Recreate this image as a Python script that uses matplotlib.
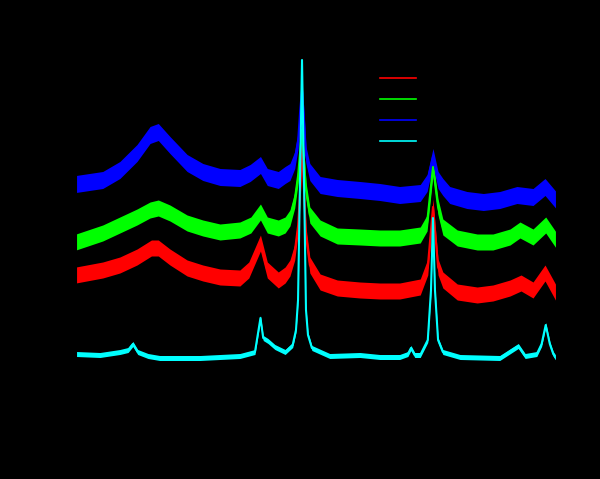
import matplotlib
matplotlib.use("Agg")
import matplotlib.pyplot as plt
import numpy as np

labels = ["S1", "S2", "S3", "S4"]
colors = ["#ff0000", "#00ff00", "#0000ff", "#00ffff"]

blue_x = [10.0, 13.9, 16.4, 18.9, 20.8, 22.0, 23.7, 26.2, 28.5, 31.0, 33.9, 35.4, 36.9, 37.9, 39.5,
          40.5, 41.2, 41.9, 42.4, 42.7, 42.96, 43.25, 43.54, 44.1, 45.6, 48.1, 51.4, 54.3, 57.2, 60.2,
          61.2, 62.06, 62.8, 63.5, 64.5, 67.0, 69.4, 71.8, 74.3, 76.65, 78.4, 80.0]
blue_y = [2160, 2200, 2300, 2470, 2650, 2680, 2550, 2370, 2280, 2230, 2220, 2270, 2350, 2230, 2200,
          2250, 2280, 2400, 2600, 2900, 3100, 2800, 2450, 2280, 2150, 2120, 2100, 2080, 2050, 2070,
          2170, 2430, 2200, 2130, 2050, 2000, 1980, 2000, 2050, 2030, 2130, 2000]

green_x = [10.0, 13.9, 16.4, 18.9, 20.8, 22.0, 23.7, 26.2, 28.5, 31.0, 33.9, 35.5, 36.9, 37.9, 39.5,
           40.5, 41.2, 41.9, 42.4, 42.7, 42.96, 43.25, 43.54, 44.1, 45.6, 48.1, 51.4, 54.3, 57.2, 60.2,
           61.2, 62.06, 62.8, 63.5, 65.6, 68.5, 70.8, 73.3, 74.75, 76.65, 78.5, 80.0]
green_y = [1580, 1670, 1750, 1830, 1900, 1920, 1870, 1770, 1720, 1680, 1700, 1750, 1880, 1750, 1720,
           1750, 1820, 2000, 2250, 2500, 2700, 2400, 2100, 1850, 1720, 1640, 1630, 1620, 1620, 1650,
           1770, 2330, 1930, 1730, 1620, 1580, 1580, 1630, 1700, 1630, 1750, 1600]

red_x = [10.0, 13.9, 16.4, 18.9, 21.0, 22.0, 23.7, 26.2, 28.5, 31.0, 33.9, 35.2, 36.9, 37.9, 39.5,
         40.5, 41.2, 41.9, 42.4, 42.7, 42.96, 43.25, 43.54, 44.1, 45.6, 48.1, 51.4, 54.3, 57.2, 60.2,
         61.3, 62.06, 62.8, 63.5, 65.6, 68.5, 70.8, 73.3, 74.9, 76.65, 78.4, 80.0]
red_y = [1250, 1300, 1350, 1430, 1520, 1520, 1430, 1320, 1270, 1230, 1220, 1300, 1570, 1300, 1200,
         1250, 1320, 1480, 1750, 2100, 2550, 2100, 1650, 1350, 1180, 1120, 1100, 1090, 1090, 1130,
         1330, 1930, 1330, 1200, 1080, 1050, 1070, 1120, 1170, 1100, 1270, 1070]

cyan_x = [10.0, 13.5, 16.4, 17.6, 18.3, 19.0, 20.5, 22.2, 28.1, 33.9, 36.1, 36.9, 37.3, 38.0, 39.0,
          40.5, 41.6, 42.08, 42.38, 42.67, 42.96, 43.25, 43.54, 43.83, 44.4, 47.0, 51.4, 54.3, 57.2,
          58.4, 58.85, 59.4, 60.2, 61.3, 61.77, 62.06, 62.35, 62.8, 63.5, 66.0, 71.8, 73.6, 74.5,
          75.5, 77.2, 77.9, 78.5, 79.1, 79.6, 80.0]
cyan_y = [460, 450, 480, 500, 560, 480, 440, 420, 420, 440, 480, 820, 620, 590, 530,
          480, 550, 700, 1000, 2200, 3400, 2200, 900, 650, 520, 440, 450, 430, 430,
          460, 520, 450, 450, 600, 1100, 1820, 1100, 600, 480, 430, 420, 500, 540,
          440, 460, 560, 750, 560, 460, 420]

# half thickness of the noisy band of each trace (intensity units)
noise = [80, 80, 85, 25]

series = [(red_x, red_y), (green_x, green_y), (blue_x, blue_y), (cyan_x, cyan_y)]

fig = plt.figure(figsize=(6.0, 4.79), dpi=100, facecolor="black")
ax = fig.add_axes([76 / 600, 79 / 479, 480 / 600, 360 / 479], facecolor="black")

for (xs, ys), c, n, lab in zip(series, colors, noise, labels):
    ys = np.asarray(ys, dtype=float)
    ax.fill_between(xs, ys - n, ys + n, color=c, lw=0)
    ax.plot(xs, ys, color=c, lw=1.5, label=lab)

ax.set_xlim(10, 80)
ax.set_ylim(0, 3600)
for s in ax.spines.values():
    s.set_color("black")
ax.tick_params(colors="black")
ax.set_xlabel("2θ (degree)", color="black")
ax.set_ylabel("Intensity (a.u.)", color="black")

leg = ax.legend(loc="upper left", bbox_to_anchor=(380 / 600, 1 - 72 / 479),
                bbox_transform=fig.transFigure, frameon=False, borderpad=0, borderaxespad=0,
                handlelength=2.6, labelspacing=0.5, fontsize=10)
for t in leg.get_texts():
    t.set_color("black")
for h in leg.legend_handles:
    h.set_linewidth(1.2)

fig.savefig("out.png", dpi=100, facecolor="black")
